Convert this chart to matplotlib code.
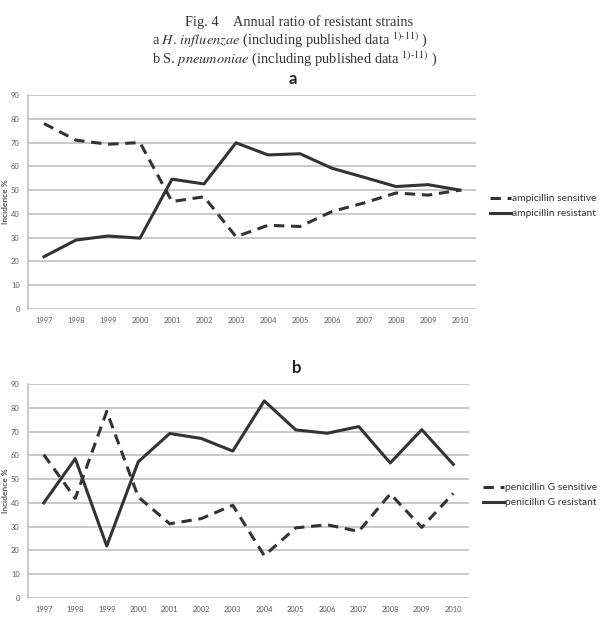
import numpy as np
import matplotlib
matplotlib.use('Agg')
import matplotlib.pyplot as plt

plt.rcParams['font.family'] = ['Lato', 'DejaVu Sans']
plt.rcParams['mathtext.fontset'] = 'stix'

# 年份
years = ['1997', '1998', '1999', '2000', '2001', '2002', '2003',
         '2004', '2005', '2006', '2007', '2008', '2009', '2010']

# a: H. influenzae
amp_sensitive = [78, 71, 69.3, 70, 45.2, 47.2, 30.4, 35.2, 34.7, 41.0, 44.6, 48.8, 47.9, 50]
amp_resistant = [22, 29, 30.7, 29.8, 54.6, 52.6, 69.9, 64.8, 65.3, 59.2, 55.4, 51.5, 52.3, 50]

# b: S. pneumoniae
pcg_sensitive = [60.3, 41.9, 78.5, 42.5, 31.2, 33.4, 39.0, 17.8, 29.5, 30.8, 28.0, 43.8, 29.7, 44.0]
pcg_resistant = [40.0, 58.6, 21.9, 57.3, 69.2, 67.1, 61.8, 82.9, 70.7, 69.3, 72.1, 56.8, 70.8, 56.2]

line_color = '#333333'
grid_color = '#c0c0c0'
text_color = '#595959'


def draw_panel(ax, sens, res, sens_label, res_label, title, title_x, legend_anchor):
    x = np.arange(len(years))
    ax.plot(x, sens, color=line_color, lw=2.2, ls=(0, (3.4, 2.2)), label=sens_label)
    ax.plot(x, res, color=line_color, lw=2.2, ls='-', label=res_label)

    ax.set_xlim(-0.5, len(years) - 0.5)
    ax.set_ylim(0, 90)
    ax.set_yticks(np.arange(0, 91, 10))
    ax.set_xticks(x)
    ax.set_xticklabels(years)
    ax.tick_params(length=0, labelsize=5.4, colors=text_color, pad=6)
    ax.yaxis.grid(True, color=grid_color, lw=1.2)
    ax.set_axisbelow(True)
    for s in ['top', 'right', 'bottom']:
        ax.spines[s].set_visible(False)
    ax.spines['left'].set_color(grid_color)
    ax.spines['left'].set_linewidth(1.2)

    ax.set_ylabel('Incidence %', fontsize=6, fontweight='bold', color=text_color, labelpad=1.5)
    # 标题居中于整个图表区域（含图例）
    ax.set_title(title, x=title_x, fontsize=12, fontweight='bold', color='#222222', pad=8)
    ax.legend(loc='center left', bbox_to_anchor=legend_anchor, frameon=False,
              fontsize=7.4, handlelength=2.1, handletextpad=0.1, labelspacing=0.55,
              labelcolor='#333333')


fig = plt.figure(figsize=(6.01, 6.17), dpi=100)

ax1 = fig.add_axes([0.0466, 0.4992, 0.7454, 0.3468])
draw_panel(ax1, amp_sensitive, amp_resistant, 'ampicillin sensitive',
           'ampicillin resistant', 'a', 0.592, (1.01, 0.48))

ax2 = fig.add_axes([0.0466, 0.0308, 0.7338, 0.3468])
draw_panel(ax2, pcg_sensitive, pcg_resistant, 'penicillin G sensitive',
           'penicillin G resistant', 'b', 0.61, (1.01, 0.48))

# 图题
serif = ['Liberation Serif', 'DejaVu Serif']
fig.text(0.497, 1 - 22 / 617, 'Fig. 4\u2003Annual ratio of resistant strains',
         ha='center', va='center', fontsize=10.4, family=serif, color='#333333')
fig.text(0.483, 1 - 40 / 617,
         r'a $\mathit{H.\,influenzae}$ (including published data $^{1)\text{-}11)}$ )',
         ha='center', va='center', fontsize=10.4, family=serif, color='#333333')
fig.text(0.49, 1 - 59 / 617,
         r'b S. $\mathit{pneumoniae}$ (including published data $^{1)\text{-}11)}$ )',
         ha='center', va='center', fontsize=10.4, family=serif, color='#333333')

fig.savefig('out.png', dpi=100)
